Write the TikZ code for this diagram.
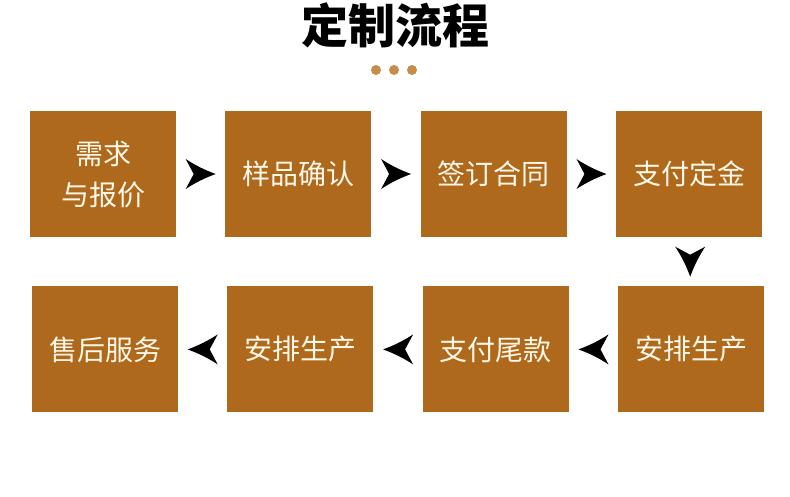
\documentclass[tikz,border=0pt]{standalone}
\usepackage{fontspec}
\newfontfamily\cjk{Noto Sans CJK SC}
\usetikzlibrary{positioning}
\definecolor{stepbrown}{RGB}{174,105,29}
\definecolor{dotgold}{RGB}{198,141,74}
\definecolor{boxtext}{RGB}{255,248,232}
\tikzset{
  stepbox/.style={fill=stepbrown, minimum width=146pt, minimum height=126pt, inner sep=0pt,
    text=boxtext, font=\cjk\fontsize{28}{41}\selectfont, align=center},
  chev/.pic={\fill[black] (15,0) .. controls (4,-4) and (-6,-9) .. (-15,-15) -- (-7,0) -- (-15,15) .. controls (-6,9) and (4,4) .. (15,0) -- cycle;}
}
\begin{document}
\begin{tikzpicture}[x=1pt,y=-1pt]
\useasboundingbox (0,0) rectangle (790,496);

% title
\node (title) at (395,25) {\cjk\bfseries\fontsize{47}{50}\selectfont 定制流程};
\foreach \dx in {376,394,412}
  \fill[dotgold] (\dx,70) circle (5);

% first row
\node[stepbox] (s1) at (103,174) {需求\\与报价};
\node[stepbox, right=49pt of s1] (s2) {样品确认};
\node[stepbox, right=49pt of s2] (s3) {签订合同};
\node[stepbox, right=49pt of s3] (s4) {支付定金};

% second row
\node[stepbox, below=49pt of s4, xshift=2pt] (s5) {安排生产};
\node[stepbox, left=49pt of s5] (s6) {支付尾款};
\node[stepbox, left=49pt of s6] (s7) {安排生产};
\node[stepbox, left=49pt of s7] (s8) {售后服务};

% arrows
\path (s1.east) -- (s2.west) coordinate[midway] (a12);
\path (s2.east) -- (s3.west) coordinate[midway] (a23);
\path (s3.east) -- (s4.west) coordinate[midway] (a34);
\path (s4.south) -- (s5.north) coordinate[midway] (a45);
\path (s5.west) -- (s6.east) coordinate[midway] (a56);
\path (s6.west) -- (s7.east) coordinate[midway] (a67);
\path (s7.west) -- (s8.east) coordinate[midway] (a78);
\pic at (a12) {chev};
\pic at (a23) {chev};
\pic at (a34) {chev};
\pic[rotate=-90] at (a45) {chev};
\pic[rotate=180] at (a56) {chev};
\pic[rotate=180] at (a67) {chev};
\pic[rotate=180] at (a78) {chev};

\end{tikzpicture}
\end{document}
